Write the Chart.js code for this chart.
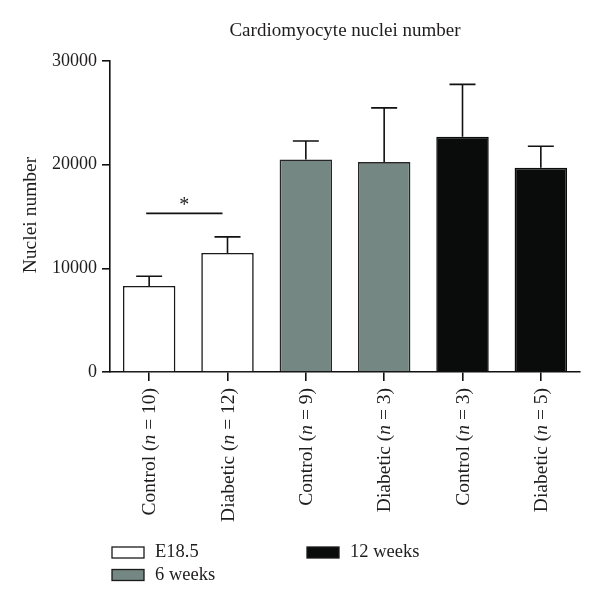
<!DOCTYPE html>
<html>
<head>
<meta charset="utf-8">
<script src="https://cdn.jsdelivr.net/npm/chart.js@4/dist/chart.umd.min.js"></script>
<style>
html,body{margin:0;padding:0;background:#fff;}
#wrap{width:600px;height:608px;position:relative;}
</style>
</head>
<body>
<div id="wrap"><canvas id="c" width="600" height="608"></canvas></div>
<script>
const categories = ["Control (n = 10)", "Diabetic (n = 12)", "Control (n = 9)", "Diabetic (n = 3)", "Control (n = 3)", "Diabetic (n = 5)"];
const groupNames = ["E18.5", "6 weeks", "12 weeks"];
const e185Values = [8300, 11480, null, null, null, null];
const w6Values = [null, null, 20500, 20250, null, null];
const w12Values = [null, null, null, null, 22700, 19700];
const errorValues = [940, 1550, 1780, 5230, 5050, 2080];
const yTicks = [0, 10000, 20000, 30000];
const sigPair = [0, 1];
const sigLevel = 15300;
const sigLabel = "*";
const titleText = "Cardiomyocyte nuclei number";
const yTitle = "Nuclei number";

const SERIF = "'Liberation Serif', 'DejaVu Serif', serif";
const TXT = "#1f1c1d";
const fills = ["#ffffff", "#758783", "#0a0c0b"];
const borders = ["#1a1a1a", "#262626", "#0a0c0b"];

const allValues = categories.map((_, i) => [e185Values, w6Values, w12Values].map(a => a[i]).find(v => v != null));

const overlay = {
  id: "overlay",
  afterDatasetsDraw(chart) {
    const ctx = chart.ctx;
    const x = chart.scales.x, y = chart.scales.y;
    ctx.save();
    ctx.strokeStyle = "#111";
    ctx.lineWidth = 1.6;
    categories.forEach((c, i) => {
      const cx = x.getPixelForValue(i);
      const top = y.getPixelForValue(allValues[i]);
      const cap = y.getPixelForValue(allValues[i] + errorValues[i]);
      ctx.beginPath();
      ctx.moveTo(cx, top); ctx.lineTo(cx, cap);
      ctx.moveTo(cx - 13, cap); ctx.lineTo(cx + 13, cap);
      ctx.stroke();
    });
    const sx1 = x.getPixelForValue(sigPair[0]) - 3;
    const sx2 = x.getPixelForValue(sigPair[1]) - 5;
    const sy = y.getPixelForValue(sigLevel);
    ctx.beginPath();
    ctx.moveTo(sx1, sy); ctx.lineTo(sx2, sy); ctx.stroke();
    ctx.fillStyle = TXT;
    ctx.font = "20px " + SERIF;
    ctx.textAlign = "center";
    ctx.textBaseline = "middle";
    ctx.fillText(sigLabel, (sx1 + sx2) / 2, sy - 8);
    ctx.restore();
  },
  afterDraw(chart) {
    const ctx = chart.ctx;
    const x = chart.scales.x;
    ctx.save();
    ctx.fillStyle = TXT;
    ctx.font = "19px " + SERIF;
    ctx.textAlign = "center";
    ctx.textBaseline = "middle";
    ctx.fillText(titleText, 345, 31);
    ctx.save();
    ctx.translate(31, 215);
    ctx.rotate(-Math.PI / 2);
    ctx.font = "19.5px " + SERIF;
    ctx.fillText(yTitle, 0, 0);
    ctx.restore();
    categories.forEach((label, i) => {
      const cx = x.getPixelForValue(i);
      const m = label.match(/^(.*\()n( = .*)$/);
      const parts = m ? [[m[1], false], ["n", true], [m[2], false]] : [[label, false]];
      ctx.save();
      ctx.translate(cx + 1, 388);
      ctx.rotate(-Math.PI / 2);
      ctx.textBaseline = "middle";
      ctx.textAlign = "left";
      const widths = parts.map(p => { ctx.font = (p[1] ? "italic " : "") + "19.5px " + SERIF; return ctx.measureText(p[0]).width; });
      const total = widths.reduce((a, b) => a + b, 0);
      let px = -total;
      parts.forEach((p, k) => {
        ctx.font = (p[1] ? "italic " : "") + "19.5px " + SERIF;
        ctx.fillText(p[0], px, 0);
        px += widths[k];
      });
      ctx.restore();
    });
    const items = [
      {i: 0, bx: 112, by: 547},
      {i: 1, bx: 112, by: 569.5},
      {i: 2, bx: 307, by: 547}
    ];
    items.forEach(it => {
      ctx.fillStyle = fills[it.i];
      ctx.strokeStyle = "#1a1a1a";
      ctx.lineWidth = 1.3;
      ctx.fillRect(it.bx, it.by, 32, 11);
      ctx.strokeRect(it.bx, it.by, 32, 11);
      ctx.fillStyle = TXT;
      ctx.font = "18.5px " + SERIF;
      ctx.textAlign = "left";
      ctx.textBaseline = "middle";
      ctx.fillText(groupNames[it.i], it.bx + 43, it.by + 5.5);
    });
    ctx.restore();
  }
};

const mk = (vals, k) => ({
  label: groupNames[k],
  data: vals,
  backgroundColor: fills[k],
  borderColor: borders[k],
  borderWidth: 1.6,
  borderSkipped: "bottom",
  barPercentage: 0.67,
  categoryPercentage: 1,
  grouped: false
});

new Chart(document.getElementById("c"), {
  type: "bar",
  data: {
    labels: categories,
    datasets: [mk(e185Values, 0), mk(w6Values, 1), mk(w12Values, 2)]
  },
  options: {
    responsive: false,
    animation: false,
    events: [],
    layout: { padding: { top: 61, right: 20, left: 0, bottom: 0 } },
    plugins: { legend: { display: false }, tooltip: { enabled: false }, title: { display: false } },
    scales: {
      x: {
        offset: true,
        grid: { display: true, drawOnChartArea: false, offset: false, tickLength: 9, color: "#111", lineWidth: 1.6 },
        border: { display: true, color: "#111", width: 1.6 },
        ticks: { display: false },
        afterFit(s) { s.height = 236; }
      },
      y: {
        min: 0, max: 30000,
        afterBuildTicks(s) { s.ticks = yTicks.map(v => ({ value: v })); },
        grid: { display: true, drawOnChartArea: false, tickLength: 8, color: "#111", lineWidth: 1.6 },
        border: { display: true, color: "#111", width: 1.6 },
        ticks: { color: TXT, font: { family: SERIF, size: 18 }, padding: 5, callback: v => String(v) },
        afterFit(s) { s.width = 110; }
      }
    }
  },
  plugins: [overlay]
});
</script>
</body>
</html>
